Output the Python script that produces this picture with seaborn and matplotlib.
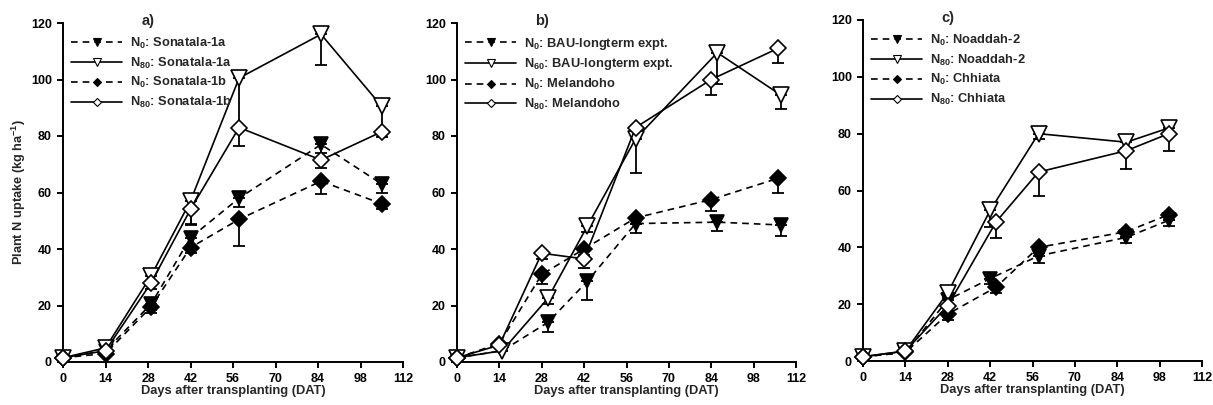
import numpy as np
import pandas as pd
import matplotlib
matplotlib.use("Agg")
import matplotlib.pyplot as plt
import seaborn as sns

# ---- panel a) Sonatala sites ----
a_days_tri = [0, 14, 29, 42, 58, 85, 105]
a_days_dia = [0, 14, 29, 42, 58, 85, 105]
a_n0_1a = [1.5, 4, 20.5, 44, 58, 77, 63]
a_n0_1a_err = [0, 0, 2, 3, 3, 3, 3]
a_n80_1a = [1.5, 5, 30.5, 57, 100.5, 116, 90.5]
a_n80_1a_err = [0, 0, 2, 8, 17, 11, 9]
a_n0_1b = [1.5, 3, 19.5, 40.5, 50.5, 64, 56]
a_n0_1b_err = [0, 0, 2, 2, 9.5, 4.5, 2]
a_n80_1b = [1.5, 4, 28, 54, 83, 71.5, 81.5]
a_n80_1b_err = [0, 0, 2, 5.5, 6.5, 3, 2]
a_labels = ["N$_0$: Sonatala-1a", "N$_{80}$: Sonatala-1a",
            "N$_0$: Sonatala-1b", "N$_{80}$: Sonatala-1b"]

# ---- panel b) BAU long-term experiment and Melandoho ----
b_days_tri = [0, 15, 30, 43, 59, 86, 107]
b_days_dia = [0, 14, 28, 42, 59, 84, 106]
b_n0_bau = [1.5, 4, 14, 28.5, 49, 49.5, 48.5]
b_n0_bau_err = [0, 0, 3.5, 6.5, 3.5, 3, 4]
b_n60_bau = [1.5, 4, 22.5, 48, 79, 109.5, 94.5]
b_n60_bau_err = [0, 0, 2, 2, 12, 11, 5]
b_n0_mel = [1.5, 6.5, 31, 40, 51, 57.5, 65]
b_n0_mel_err = [0, 0, 3.5, 2, 2, 4, 5]
b_n80_mel = [1.5, 6, 38.5, 36.5, 83, 100, 111]
b_n80_mel_err = [0, 0, 2, 3.2, 2, 5.5, 5]
b_labels = ["N$_0$: BAU-longterm expt.", "N$_{60}$: BAU-longterm expt.",
            "N$_0$: Melandoho", "N$_{80}$: Melandoho"]

# ---- panel c) Noaddah-2 and Chhiata ----
c_days_tri = [0, 14, 28, 42, 58, 87, 101]
c_days_dia = [0, 14, 28, 44, 58, 87, 101]
c_n0_noa = [1.5, 3, 21.5, 29, 37, 43.5, 49.5]
c_n0_noa_err = [0, 0, 2, 2, 2.5, 2, 2]
c_n80_noa = [1.5, 3.5, 24, 53, 80, 77, 82]
c_n80_noa_err = [0, 0, 2, 6, 2, 2, 2]
c_n0_chh = [1.5, 3, 16.5, 26, 40, 45.5, 51.5]
c_n0_chh_err = [0, 0, 2, 2, 2, 2, 2]
c_n80_chh = [1.5, 3.5, 19.5, 49, 66.5, 74, 80]
c_n80_chh_err = [0, 0, 2, 5.8, 8.5, 6.5, 6]
c_labels = ["N$_0$: Noaddah-2", "N$_{80}$: Noaddah-2",
            "N$_0$: Chhiata", "N$_{80}$: Chhiata"]

x_ticks = [0, 14, 28, 42, 56, 70, 84, 98, 112]
y_ticks = [0, 20, 40, 60, 80, 100, 120]

sns.set_theme(style="ticks")
plt.rcParams.update({
    "font.family": ["Liberation Sans", "DejaVu Sans"],
    "font.weight": "bold",
    "font.size": 9,
    "mathtext.fontset": "custom",
    "mathtext.rm": "Liberation Sans:bold",
    "mathtext.it": "Liberation Sans:bold",
    "mathtext.bf": "Liberation Sans:bold",
    "mathtext.default": "rm",
    "axes.linewidth": 1.4,
    "xtick.major.width": 1.4,
    "ytick.major.width": 1.4,
    "xtick.major.size": 4,
    "ytick.major.size": 4,
    "xtick.color": "black",
    "ytick.color": "black",
    "axes.edgecolor": "black",
})

# marker style per treatment: filled/open down-triangle, filled/open diamond
styles = [
    dict(marker="v", face="black", dashes=(4, 3), ms=10),
    dict(marker="v", face="white", dashes="", ms=11),
    dict(marker="D", face="black", dashes=(4, 3), ms=8),
    dict(marker="D", face="white", dashes="", ms=8),
]

panels = [
    ("a)", a_labels, [a_days_tri, a_days_tri, a_days_dia, a_days_dia],
     [a_n0_1a, a_n80_1a, a_n0_1b, a_n80_1b],
     [a_n0_1a_err, a_n80_1a_err, a_n0_1b_err, a_n80_1b_err]),
    ("b)", b_labels, [b_days_tri, b_days_tri, b_days_dia, b_days_dia],
     [b_n0_bau, b_n60_bau, b_n0_mel, b_n80_mel],
     [b_n0_bau_err, b_n60_bau_err, b_n0_mel_err, b_n80_mel_err]),
    ("c)", c_labels, [c_days_tri, c_days_tri, c_days_dia, c_days_dia],
     [c_n0_noa, c_n80_noa, c_n0_chh, c_n80_chh],
     [c_n0_noa_err, c_n80_noa_err, c_n0_chh_err, c_n80_chh_err]),
]

fig = plt.figure(figsize=(12.13, 4.05), dpi=100)
boxes = [
    [63 / 1213, 1 - 362 / 405, 340 / 1213, 339 / 405],
    [457 / 1213, 1 - 362 / 405, 339 / 1213, 339 / 405],
    [863 / 1213, 1 - 361 / 405, 339 / 1213, 341 / 405],
]

for box, (tag, labels, xs, ys, errs) in zip(boxes, panels):
    ax = fig.add_axes(box)
    frames = []
    for lab, x, y in zip(labels, xs, ys):
        frames.append(pd.DataFrame({"DAT": x, "uptake": y, "treatment": lab}))
    df = pd.concat(frames, ignore_index=True)

    handles = []
    for i, (lab, st) in enumerate(zip(labels, styles)):
        sub = df[df["treatment"] == lab]
        sns.lineplot(data=sub, x="DAT", y="uptake", ax=ax, color="black",
                     linewidth=1.2, marker=st["marker"], markersize=st["ms"],
                     markerfacecolor=st["face"], markeredgecolor="black",
                     markeredgewidth=1.2, dashes=False, estimator=None,
                     errorbar=None, zorder=3 + i, legend=False)
        line = ax.get_lines()[-1]
        if st["dashes"]:
            line.set_dashes(st["dashes"])
        lower = np.asarray(errs[i], dtype=float)
        ax.errorbar(xs[i], ys[i], yerr=[lower, np.zeros_like(lower)],
                    fmt="none", ecolor="black", elinewidth=1.3, capsize=4,
                    capthick=1.3, zorder=2)
        h, = ax.plot([], [], color="black", linewidth=1.2,
                     marker=st["marker"], markersize=st["ms"] * 0.55,
                     markerfacecolor=st["face"], markeredgecolor="black",
                     markeredgewidth=0.8)
        if st["dashes"]:
            h.set_dashes(st["dashes"])
        handles.append(h)

    ax.legend(handles, labels, loc="upper left", bbox_to_anchor=(0.0, 0.985),
              frameon=False, handlelength=4.0,
              labelspacing=0.36, borderaxespad=0.2, handletextpad=0.6,
              prop={"weight": "bold", "size": 9.3})
    ax.text(0.25, 0.985, tag, transform=ax.transAxes, fontsize=10.5,
            fontweight="bold", ha="center", va="bottom")

    ax.set_xlim(0, 112)
    ax.set_ylim(0, 120)
    ax.set_xticks(x_ticks)
    ax.set_yticks(y_ticks)
    ax.tick_params(axis="both", labelsize=9, direction="out", pad=4)
    for lbl in ax.get_xticklabels() + ax.get_yticklabels():
        lbl.set_fontweight("bold")
    ax.set_xlabel("Days after transplanting (DAT)", fontsize=9.3,
                  fontweight="bold", labelpad=0)
    ax.set_ylabel("")
    for ln in ax.get_lines():
        ln.set_clip_on(False)
    sns.despine(ax=ax)

fig.axes[0].set_ylabel("Plant N uptake (kg ha$^{-1}$)", fontsize=9.2,
                       fontweight="bold", labelpad=2)

fig.savefig("out.png", dpi=100)
